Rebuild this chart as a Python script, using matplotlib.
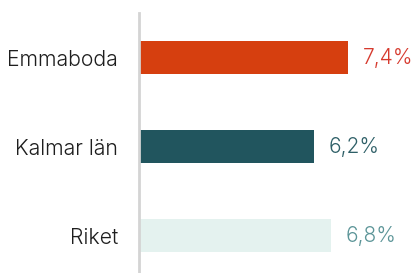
import matplotlib
matplotlib.use("Agg")
import matplotlib.pyplot as plt
from matplotlib.transforms import offset_copy

# Data
categories = ["Emmaboda", "Kalmar län", "Riket"]
values = [7.4, 6.2, 6.8]
value_labels = ["7,4%", "6,2%", "6,8%"]
bar_colors = ["#D63F0F", "#21555E", "#E4F2EF"]
text_colors = ["#D63A2E", "#2E5F67", "#5C9598"]

plt.rcParams["font.family"] = ["Inter", "DejaVu Sans"]

fig = plt.figure(figsize=(4.14, 2.73), dpi=100)
ax = fig.add_axes([139 / 414, 1 / 273, 275 / 414, 259 / 273])

y = list(range(len(categories)))
ax.barh(y, values, height=0.37, color=bar_colors)

# value labels
for yi, v, lab, c in zip(y, values, value_labels, text_colors):
    tr = offset_copy(ax.transData, fig=fig, x=15, y=0, units="dots")
    ax.text(v, yi, lab, transform=tr, va="center", ha="left",
            fontsize=15, color=c, fontweight=300)

ax.set_xlim(0, 9.75)
ax.set_ylim(2.41, -0.5)
ax.set_yticks(y)
ax.set_yticklabels(categories, fontsize=15.3, color="#1E1E1E", fontweight=300)
ax.tick_params(axis="y", length=0, pad=15)
ax.set_xticks([])

for s in ["top", "right", "bottom"]:
    ax.spines[s].set_visible(False)
ax.spines["left"].set_color("#D4D4D4")
ax.spines["left"].set_linewidth(2)

fig.savefig("out.png", dpi=100)
